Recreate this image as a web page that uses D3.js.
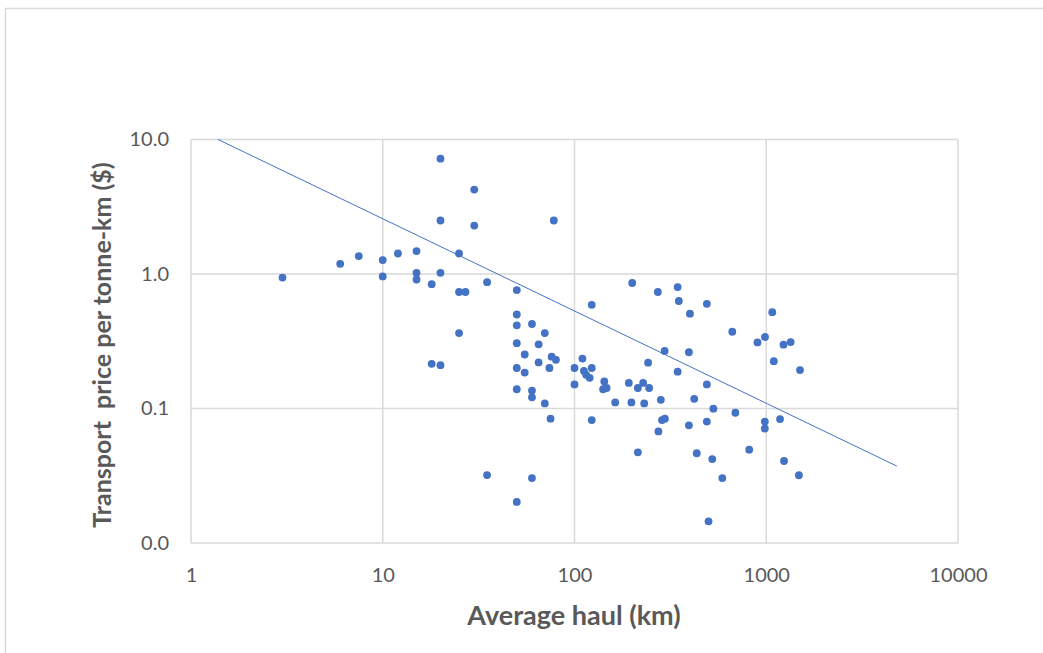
<!DOCTYPE html>
<html lang="en">
<head>
<meta charset="UTF-8">
<title>Transport price vs haul</title>
<script src="https://cdn.jsdelivr.net/npm/d3@7"></script>
<style>
  body { margin: 0; background: #fff; }
  text { font-family: Lato, "Open Sans", sans-serif; fill: #595959; }
</style>
</head>
<body>
<svg width="1043" height="653"></svg>
<script>
// average haul (km)
let haul = [3, 6, 7.5, 10, 10, 12, 15, 15, 15, 18, 20, 20, 20, 25, 25, 27, 30, 30, 35, 50,
  78, 25, 18, 20, 50, 50, 60, 70, 50, 65, 55, 76, 80, 65, 50, 55, 74, 100, 110, 112,
  115, 120, 123, 100, 50, 60, 60, 70, 75, 123, 35, 60, 50, 123, 200, 272, 345, 350, 400, 490,
  665, 900, 985, 1075, 1095, 1230, 1340, 1500, 143, 147, 141, 163, 192, 198, 214, 228, 231, 245,
  242, 282, 295, 345, 395, 421, 490, 530, 690, 286, 296, 395, 490, 983, 983, 1180, 274, 214,
  434, 523, 815, 1238, 1480, 590, 500]
// transport price per tonne-km ($)
let price = [0.94, 1.19, 1.36, 1.27, 0.96, 1.42, 1.48, 1.02, 0.91, 0.84, 7.2, 2.5, 1.02, 1.42, 0.735, 0.735, 4.24, 2.29, 0.87, 0.76,
  2.5, 0.364, 0.215, 0.21, 0.5, 0.415, 0.425, 0.364, 0.306, 0.3, 0.252, 0.243, 0.23, 0.22, 0.2, 0.185, 0.2, 0.2, 0.235, 0.19,
  0.178, 0.169, 0.2, 0.151, 0.139, 0.136, 0.121, 0.109, 0.084, 0.082, 0.032, 0.0304, 0.0202, 0.59, 0.857, 0.735, 0.8, 0.63, 0.507, 0.6,
  0.372, 0.31, 0.34, 0.52, 0.225, 0.298, 0.312, 0.193, 0.159, 0.142, 0.139, 0.111, 0.155, 0.111, 0.142, 0.155, 0.109, 0.142,
  0.219, 0.116, 0.268, 0.188, 0.262, 0.118, 0.151, 0.0997, 0.093, 0.082, 0.084, 0.075, 0.08, 0.08, 0.071, 0.0835, 0.0675, 0.0472,
  0.0465, 0.0421, 0.0494, 0.0407, 0.0319, 0.0304, 0.0145]

// power trendline y = a * x^b
let trendCoef = [12.5, -0.686]
let trendRange = [1.38, 4800]

let xTicks = [1, 10, 100, 1000, 10000]
let yTicks = [0.01, 0.1, 1, 10]

let svg = d3.select('svg')
let plotL = 191, plotR = 958, plotT = 139.5, plotB = 543

// chart frame (only top and left edges visible)
svg.append('rect')
  .attr('x', 5.5).attr('y', 8.5)
  .attr('width', 1100).attr('height', 700)
  .style('fill', 'none').style('stroke', '#d9d9d9').style('stroke-width', 1.5)

let x = d3.scaleLog().domain([1, 10000]).range([plotL, plotR])
let y = d3.scaleLog().domain([0.01, 10]).range([plotB, plotT])

// grid
svg.append('g').selectAll('line').data(xTicks).join('line')
  .attr('x1', d => x(d)).attr('x2', d => x(d))
  .attr('y1', plotT).attr('y2', plotB)
  .style('stroke', '#d9d9d9').style('stroke-width', 1.5)
svg.append('g').selectAll('line').data(yTicks).join('line')
  .attr('x1', plotL).attr('x2', plotR)
  .attr('y1', d => y(d)).attr('y2', d => y(d))
  .style('stroke', '#d9d9d9').style('stroke-width', 1.5)

// tick labels
svg.append('g')
  .attr('transform', 'translate(0,' + plotB + ')')
  .call(d3.axisBottom(x).tickValues(xTicks).tickFormat(d3.format('d')).tickSize(0).tickPadding(25))
svg.append('g')
  .attr('transform', 'translate(' + plotL + ',0)')
  .call(d3.axisLeft(y).tickValues(yTicks).tickFormat(d3.format('.1f')).tickSize(0).tickPadding(22))
svg.selectAll('.domain').remove()
svg.selectAll('.tick text')
  .style('font-family', 'Lato, sans-serif')
  .style('font-size', '20px')
  .style('fill', '#595959')

// points
let pts = haul.map((h, i) => ({h: h, p: price[i]}))
svg.append('g').selectAll('circle').data(pts).join('circle')
  .attr('cx', d => x(d.h))
  .attr('cy', d => y(d.p))
  .attr('r', 3.9)
  .style('fill', '#4472c4')

// trendline
let trend = d3.line()
  .x(d => x(d))
  .y(d => y(trendCoef[0] * Math.pow(d, trendCoef[1])))
svg.append('path')
  .datum(trendRange)
  .attr('d', trend)
  .style('fill', 'none')
  .style('stroke', '#4472c4')
  .style('stroke-width', 1)

// axis titles
svg.append('text')
  .attr('x', 574).attr('y', 625)
  .attr('text-anchor', 'middle')
  .style('font-size', '27px').style('font-weight', 'bold')
  .text('Average haul (km)')
svg.append('text')
  .attr('transform', 'translate(111,345) rotate(-90)')
  .attr('text-anchor', 'middle')
  .style('font-size', '25px').style('font-weight', 'bold')
  .style('white-space', 'pre')
  .text('Transport  price per tonne-km ($)')
</script>
</body>
</html>
